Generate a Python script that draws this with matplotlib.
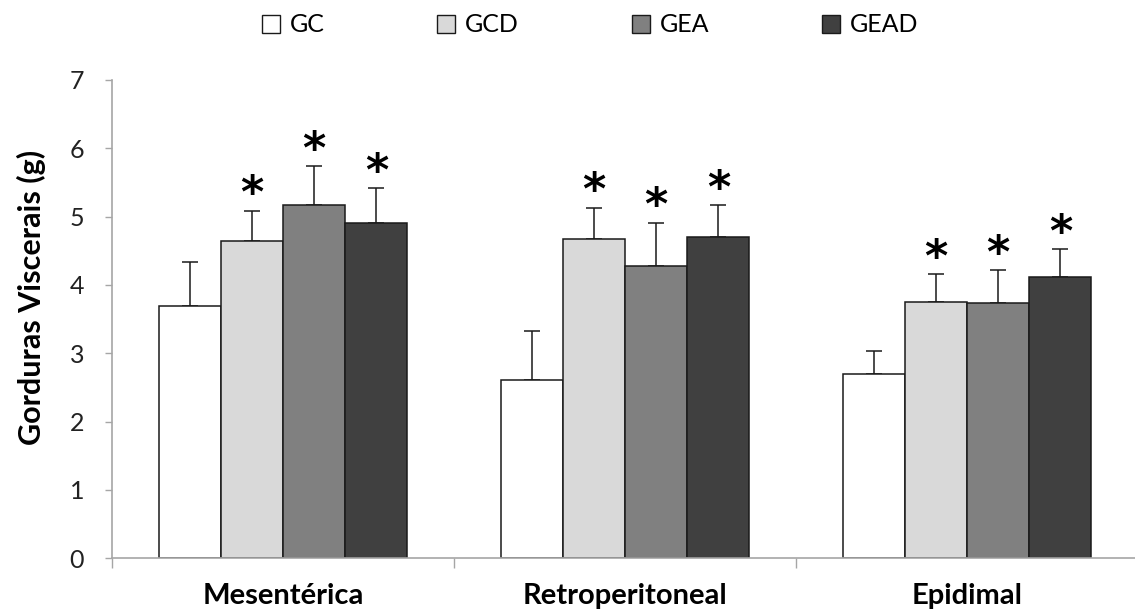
import numpy as np
import matplotlib
matplotlib.use('Agg')
import matplotlib.pyplot as plt
from matplotlib.patches import Patch

# data
categories = ['Mesentérica', 'Retroperitoneal', 'Epidimal']
groups = ['GC', 'GCD', 'GEA', 'GEAD']
colors = ['#ffffff', '#d9d9d9', '#808080', '#404040']

means = {
    'GC':   [3.69, 2.61, 2.70],
    'GCD':  [4.64, 4.68, 3.75],
    'GEA':  [5.17, 4.28, 3.73],
    'GEAD': [4.91, 4.70, 4.12],
}
errors = {
    'GC':   [0.64, 0.71, 0.34],
    'GCD':  [0.45, 0.45, 0.41],
    'GEA':  [0.57, 0.63, 0.49],
    'GEAD': [0.51, 0.47, 0.40],
}
# significance markers (True -> '*')
signif = {
    'GC':   [False, False, False],
    'GCD':  [True, True, True],
    'GEA':  [True, True, True],
    'GEAD': [True, True, True],
}

plt.rcParams['font.family'] = ['Lato', 'DejaVu Sans']

W, H = 1135, 613
fig = plt.figure(figsize=(W / 100, H / 100), dpi=100)
ax = fig.add_axes([112 / W, (H - 558.3) / H, 1026 / W, 478.3 / H])

x = np.arange(len(categories))
width = 0.182
for i, g in enumerate(groups):
    pos = x + (i - 1.5) * width
    ax.bar(pos, means[g], width, color=colors[i], edgecolor='#1a1a1a',
           linewidth=1.1, zorder=2)
    ax.errorbar(pos, means[g], yerr=[np.zeros(3), errors[g]], fmt='none',
                ecolor='#1a1a1a', elinewidth=1.1, capsize=6, capthick=1.1,
                zorder=1)
    for j in range(len(categories)):
        if signif[g][j]:
            ax.annotate('*', (pos[j], means[g][j] + errors[g][j]),
                        xytext=(0, -4), textcoords='offset points',
                        ha='center', va='bottom', fontsize=32,
                        fontweight='bold', family='DejaVu Sans')

ax.set_xlim(-0.5, 2.5)
ax.set_ylim(0, 7)
ax.set_yticks(range(8))
ax.set_xticks(x)
ax.set_xticklabels(categories, fontweight='bold', fontsize=21)
ax.set_xticks([-0.5, 0.5, 1.5, 2.5], minor=True)
ax.tick_params(axis='x', which='major', length=0, pad=18)
ax.tick_params(axis='x', which='minor', length=7, color='#a6a6a6', width=1)
ax.tick_params(axis='y', length=5, color='#a6a6a6', width=1, labelsize=18,
               pad=15, labelcolor='#222222')

for s in ['top', 'right']:
    ax.spines[s].set_visible(False)
for s in ['left', 'bottom']:
    ax.spines[s].set_color('#a6a6a6')
    ax.spines[s].set_linewidth(1.2)

fig.text(31 / W, 1 - 297 / H, 'Gorduras Viscerais (g)', rotation=90,
         ha='center', va='center', fontsize=22, fontweight='bold')

handles = [Patch(facecolor=c, edgecolor='#1a1a1a', linewidth=1.0)
           for c in colors]
fig.legend(handles, groups, loc='center', ncol=4,
           bbox_to_anchor=(590 / W, 1 - 25 / H), frameon=False,
           fontsize=18, handlelength=0.72, handleheight=0.72,
           handletextpad=0.4, columnspacing=4.5)

fig.savefig('out.png', dpi=100)
